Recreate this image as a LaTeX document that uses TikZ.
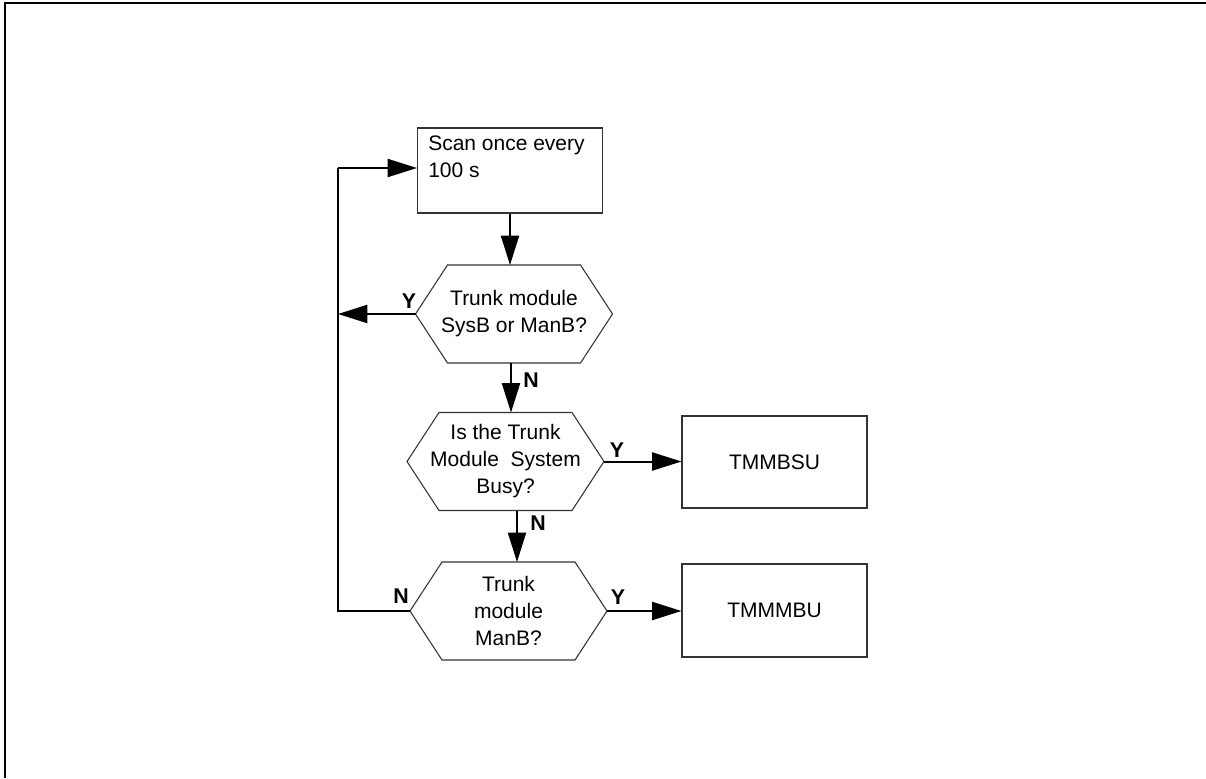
\documentclass[tikz,border=0pt]{standalone}
\usepackage{fontspec}
\setmainfont{Liberation Sans}
\usetikzlibrary{arrows.meta,calc}
\tikzset{
  txt/.style={font=\fontsize{15.75}{20.25}\selectfont, align=center, inner sep=0pt},
  yn/.style={font=\fontsize{16}{18}\selectfont\bfseries, inner sep=0pt},
  boxshape/.style={draw=black!80, line width=0.8pt, minimum width=138.75pt, inner sep=0pt, font=\fontsize{15.75}{20.25}\selectfont},
  hexborder/.style={draw=black!80, line width=0.8pt},
  conn/.style={draw=black, line width=1.5pt},
  arr/.style={conn, -{Triangle[length=22pt,width=13.5pt]}},
  frameline/.style={draw=black, line width=2pt}
}
\newcommand\hexagonat[1]{%
  \draw[hexborder] ($(#1)+(-66.5,-49)$) -- ($(#1)+(66.5,-49)$) -- ($(#1)+(98.5,0)$)
    -- ($(#1)+(66.5,49)$) -- ($(#1)+(-66.5,49)$) -- ($(#1)+(-98.5,0)$) -- cycle;
  \coordinate (#1w) at ($(#1)+(-98.5,0)$);
  \coordinate (#1e) at ($(#1)+(98.5,0)$);
  \coordinate (#1n) at ($(#1)+(0,-49)$);
  \coordinate (#1s) at ($(#1)+(0,49)$);}
\begin{document}
\begin{tikzpicture}[x=0.75pt,y=-0.75pt]
\useasboundingbox (0,0) rectangle (1206,778);
% frame (top and left edges)
\coordinate (ftl) at (5,3);
\coordinate (ftr) at (1206,3);
\coordinate (fbl) at (5,778);
\draw[frameline] (ftr) -- (ftl) -- (fbl);

% start box
\node[boxshape, minimum height=63.75pt] (scan) at (510,170.5) {};
\node[txt, align=left, anchor=north west] (scantext) at (428,136) {Scan once every\\100 s};

% decisions
\node[txt] (h1) at (514,314) {Trunk module\\SysB or ManB?};
\hexagonat{h1}
\node[txt] (h2) at (505.5,461.5) {Is the Trunk\\Module\ \ System\\Busy?};
\hexagonat{h2}
\node[txt] (h3) at (508.5,611) {Trunk\\module\\ManB?};
\hexagonat{h3}

% result boxes
\node[boxshape, minimum height=69pt] (bsu) at (774.5,462) {TMMBSU};
\node[boxshape, minimum height=69.75pt] (mbu) at (774.5,610.5) {TMMMBU};

% loop coordinates
\coordinate (lt) at (338,168);
\coordinate (ly) at (338,314);
\coordinate (lb) at (338,611);
\coordinate (h1out) at (511,363);
\coordinate (h2out) at (517,511);

% connectors
\draw[arr] (scan.south) -- (scan.south |- h1n);
\draw[arr] (h1out) -- (h1out |- h2n);
\draw[arr] (h2out) -- (h2out |- h3n);
\draw[arr] (h1w) -- (ly);
\draw[conn] (h3w) -- (lb) -- (lt);
\draw[arr] (lt) -- (lt -| scan.west);
\draw[arr] (h2e) -- (h2e -| bsu.west);
\draw[arr] (h3e) -- (h3e -| mbu.west);

% labels
\node[yn] (ly1) at (409,301) {Y};
\node[yn] (ln1) at (531,380) {N};
\node[yn] (ly2) at (617,450) {Y};
\node[yn] (ln2) at (538,523) {N};
\node[yn] (ln3) at (401,596) {N};
\node[yn] (ly3) at (618,597) {Y};
\end{tikzpicture}
\end{document}
